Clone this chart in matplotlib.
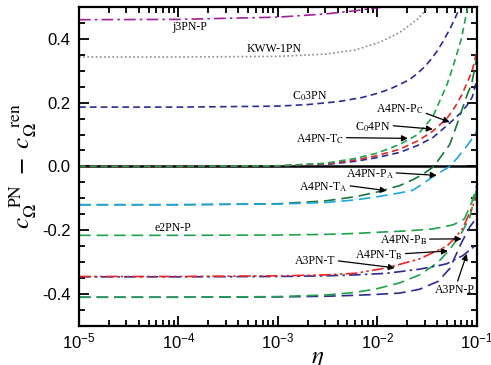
import numpy as np
import matplotlib
matplotlib.use("Agg")
import matplotlib.pyplot as plt
from matplotlib.ticker import MultipleLocator, LogLocator, NullFormatter

plt.rcParams['font.family'] = ['Liberation Sans', 'DejaVu Sans']
plt.rcParams['mathtext.fontset'] = 'stix'

# curves: (eta, c_PN - c_ren)
eta_j3 = [1e-5, 1e-4, 1e-3, 3e-3, 6e-3, 1.15e-2, 2e-2]
j3PN_P = [0.460, 0.461, 0.468, 0.478, 0.488, 0.500, 0.520]

eta_kww = [1e-5, 1e-4, 1e-3, 3e-3, 6e-3, 1.07e-2, 1.68e-2, 2.5e-2, 3.3e-2, 4e-2]
KWW_1PN = [0.343, 0.343, 0.345, 0.352, 0.365, 0.390, 0.420, 0.460, 0.500, 0.530]

eta_c3 = [1e-5, 1e-4, 1e-3, 2e-3, 4e-3, 7e-3, 1e-2, 1.35e-2, 1.68e-2, 2.1e-2, 2.5e-2, 3e-2, 3.5e-2,
          4e-2, 4.5e-2, 5.35e-2, 6e-2, 6.8e-2, 8e-2]
C0_3PN = [0.186, 0.186, 0.189, 0.194, 0.203, 0.216, 0.229, 0.243, 0.257, 0.272, 0.290, 0.313, 0.337,
          0.362, 0.388, 0.430, 0.462, 0.500, 0.560]

eta_c = [1e-5, 1e-4, 1e-3, 3e-3, 6e-3, 1e-2, 1.68e-2, 2.55e-2, 3.6e-2, 5e-2, 6e-2, 7e-2, 8e-2, 9e-2, 1e-1]
A4PN_T_C = [0.0, 0.0, 0.002, 0.010, 0.025, 0.042, 0.069, 0.100, 0.155, 0.255, 0.330, 0.400, 0.490, 0.600, 0.720]
C0_4PN = [0.0, 0.0, 0.002, 0.008, 0.020, 0.034, 0.054, 0.080, 0.110, 0.150, 0.185, 0.222, 0.262, 0.300, 0.360]
A4PN_P_C = [0.0, 0.0, 0.001, 0.006, 0.016, 0.028, 0.044, 0.066, 0.090, 0.128, 0.150, 0.170, 0.192, 0.217, 0.270]

eta_a = [1e-5, 1e-4, 1e-3, 3e-3, 6e-3, 1e-2, 1.68e-2, 2.26e-2, 2.85e-2, 3.7e-2, 5.35e-2, 6.3e-2, 7.9e-2, 8.9e-2, 1e-1]
A4PN_T_A = [-0.120, -0.120, -0.117, -0.108, -0.095, -0.080, -0.060, -0.042, -0.025, 0.000, 0.069, 0.130, 0.220, 0.260, 0.340]
A4PN_P_A = [-0.120, -0.120, -0.118, -0.113, -0.105, -0.095, -0.083, -0.075, -0.055, -0.030, 0.000, 0.025, 0.063, 0.085, 0.110]

eta_b = [1e-5, 1e-4, 1e-3, 3e-3, 6e-3, 1.24e-2, 2e-2, 3.6e-2, 5.8e-2, 7.5e-2, 8.9e-2, 1e-1]
e2PN_P = [-0.216, -0.216, -0.215, -0.213, -0.210, -0.205, -0.202, -0.196, -0.183, -0.165, -0.113, -0.060]

eta_d = [1e-5, 1e-4, 1e-3, 3e-3, 6e-3, 1e-2, 1.68e-2, 2.66e-2, 4.1e-2, 5.35e-2, 7e-2, 8.5e-2, 1e-1]
A4PN_T_B = [-0.410, -0.410, -0.408, -0.403, -0.395, -0.383, -0.365, -0.340, -0.300, -0.260, -0.210, -0.160, -0.070]
A4PN_P_B = [-0.410, -0.410, -0.409, -0.407, -0.404, -0.401, -0.397, -0.385, -0.360, -0.320, -0.240, -0.190, -0.160]

eta_3 = [1e-5, 1e-4, 1e-3, 3e-3, 6e-3, 1.24e-2, 2.66e-2, 4.25e-2, 5e-2, 6e-2, 7.2e-2, 8.5e-2, 1e-1]
A3PN_T = [-0.345, -0.345, -0.343, -0.340, -0.335, -0.318, -0.290, -0.260, -0.250, -0.225, -0.195, -0.145, -0.095]
A3PN_P = [-0.346, -0.346, -0.345, -0.343, -0.340, -0.335, -0.322, -0.310, -0.305, -0.292, -0.280, -0.262, -0.245]

navy = '#2b2b95'
magenta = '#a0209c'
green = '#1fa24e'
dkgreen = '#17763c'
red = '#e82424'
cyan = '#1ea7e2'
gray = '#8c8c8c'

short = (0, (4, 2.5))
long = (0, (7, 3.5))
dashdot = (0, (7, 2.5, 1.5, 2.5))
dashdotdot = (0, (7, 2, 1.5, 2, 1.5, 2))

fig = plt.figure(figsize=(4.91, 3.65), dpi=100)
ax = fig.add_axes([0.161, 0.107, 0.810, 0.874])

ax.axhline(0, color='black', lw=1.8, zorder=1)

lw = 1.2
ax.plot(eta_j3, j3PN_P, color=magenta, ls=dashdot, lw=lw)
ax.plot(eta_kww, KWW_1PN, color=gray, ls=(0, (1, 1.5)), lw=lw)
ax.plot(eta_c3, C0_3PN, color=navy, ls=short, lw=lw)
ax.plot(eta_c, A4PN_P_C, color=navy, ls=short, lw=lw)
ax.plot(eta_c, C0_4PN, color=red, ls=short, lw=lw)
ax.plot(eta_c, A4PN_T_C, color=green, ls=short, lw=lw)
ax.plot(eta_a, A4PN_T_A, color=dkgreen, ls=long, lw=lw)
ax.plot(eta_a, A4PN_P_A, color=cyan, ls=long, lw=lw)
ax.plot(eta_b, e2PN_P, color=green, ls=long, lw=lw)
ax.plot(eta_d, A4PN_P_B, color=navy, ls=long, lw=lw)
ax.plot(eta_d, A4PN_T_B, color=green, ls=long, lw=lw)
ax.plot(eta_3, A3PN_P, color=navy, ls=dashdot, lw=lw)
ax.plot(eta_3, A3PN_T, color=red, ls=dashdotdot, lw=lw)

ax.set_xscale('log')
ax.set_xlim(1e-5, 1e-1)
ax.set_ylim(-0.5, 0.5)
ax.yaxis.set_major_locator(MultipleLocator(0.2))
ax.yaxis.set_minor_locator(MultipleLocator(0.05))
ax.yaxis.set_major_formatter(plt.FuncFormatter(lambda v, p: f'{v:.1f}'))
ax.xaxis.set_major_locator(LogLocator(base=10, numticks=10))
ax.xaxis.set_minor_locator(LogLocator(base=10, subs=np.arange(2, 10), numticks=20))
ax.xaxis.set_minor_formatter(NullFormatter())
ax.tick_params(which='both', direction='in', top=True, right=True, labelsize=12, width=1.3)
ax.tick_params(which='major', length=7)
ax.tick_params(axis='y', which='major', pad=6)
ax.tick_params(axis='x', which='major', pad=4)
ax.tick_params(which='minor', length=4)
for s in ax.spines.values():
    s.set_linewidth(1.6)

ax.set_xlabel(r'$\eta$', fontsize=18)
ax.xaxis.set_label_coords(0.6, -0.063)
ax.set_ylabel(r'$c_{\Omega}^{\ \ \mathrm{PN}}\ -\ c_{\Omega}^{\ \ \mathrm{ren}}$', fontsize=18, labelpad=2)

tf = dict(fontsize=8.5, family='Liberation Serif')
ap = dict(arrowstyle='-|>', color='black', lw=0.9, mutation_scale=9, shrinkA=0, shrinkB=0)

ax.text(1.31e-4, 0.438, 'j3PN-P', ha='center', va='center', **tf)
ax.text(9.1e-4, 0.369, 'KWW-1PN', ha='center', va='center', **tf)
ax.text(2.1e-3, 0.22, r'C$_0$3PN', ha='center', va='center', **tf)
ax.text(8.8e-5, -0.192, 'e2PN-P', ha='center', va='center', **tf)

def note(label, tip, pos, rel=(1, 0.5)):
    ax.annotate(label, xy=tip, xytext=pos, ha='right', va='center',
                arrowprops=dict(relpos=rel, **ap), **tf)

note(r'A4PN-P$_\mathrm{C}$', (0.0535, 0.139), (0.029, 0.178), (1, 0.3))
note(r'C$_0$4PN', (0.0361, 0.117), (0.0136, 0.124), (1, 0.6))
note(r'A4PN-T$_\mathrm{C}$', (0.0203, 0.088), (0.0046, 0.086), (1, 0.6))
note(r'A4PN-P$_\mathrm{A}$', (0.0396, -0.028), (0.0145, -0.024), (1, 0.6))
note(r'A4PN-T$_\mathrm{A}$', (0.0124, -0.076), (0.0050, -0.064), (1, 0.6))
note(r'A4PN-P$_\mathrm{B}$', (0.0705, -0.227), (0.0315, -0.232), (1, 0.6))
note(r'A4PN-T$_\mathrm{B}$', (0.0511, -0.265), (0.0180, -0.278), (1, 0.6))
note('A3PN-T', (0.0150, -0.318), (0.0038, -0.295), (1, 0.5))
ax.annotate('A3PN-P', xy=(0.0794, -0.274), xytext=(0.06, -0.387), ha='center', va='center',
            arrowprops=dict(relpos=(0.55, 1), **ap), **tf)

fig.savefig('out.png', dpi=100)
